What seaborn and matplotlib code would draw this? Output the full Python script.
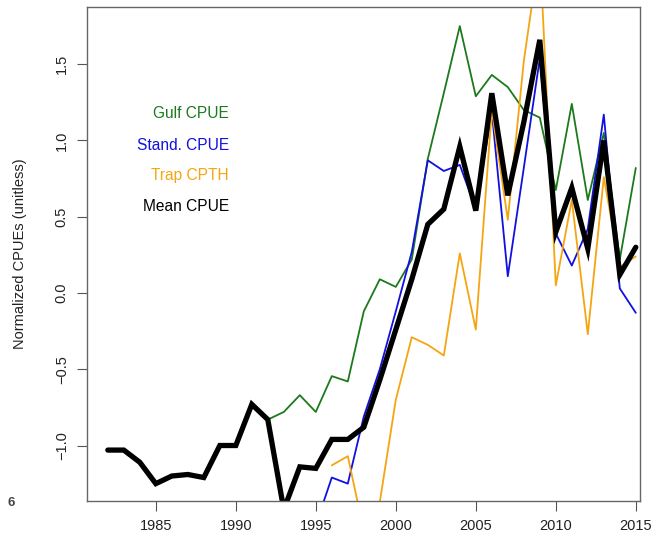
import numpy as np
import pandas as pd
import matplotlib
matplotlib.use("Agg")
import matplotlib.pyplot as plt
import seaborn as sns

sns.set_style("white")
plt.rcParams["font.family"] = ["Liberation Sans", "DejaVu Sans"]

years = list(range(1982, 2016))

mean_cpue = [-1.03, -1.03, -1.11, -1.25, -1.20, -1.19, -1.21, -1.00, -1.00, -0.73,
             -0.83, -1.42, -1.14, -1.15, -0.96, -0.96, -0.88, -0.57, -0.24, 0.09,
             0.45, 0.55, 0.96, 0.54, 1.31, 0.64, 1.12, 1.66, 0.40, 0.69,
             0.29, 1.00, 0.12, 0.30]

gulf_years = list(range(1992, 2016))
gulf_cpue = [-0.83, -0.78, -0.67, -0.78, -0.545, -0.58, -0.12, 0.09, 0.04, 0.22,
             0.88, 1.31, 1.75, 1.29, 1.43, 1.35, 1.20, 1.15, 0.675, 1.24,
             0.61, 1.05, 0.22, 0.82]

stand_years = list(range(1995, 2016))
stand_cpue = [-1.52, -1.21, -1.25, -0.81, -0.50, -0.12, 0.27, 0.87, 0.80, 0.84,
              0.55, 1.19, 0.11, 0.82, 1.54, 0.39, 0.18, 0.42, 1.17, 0.03, -0.13]

trap_years = list(range(1996, 2016))
trap_cpth = [-1.13, -1.07, -1.56, -1.37, -0.70, -0.29, -0.34, -0.41, 0.26, -0.24,
             1.20, 0.48, 1.52, 2.25, 0.05, 0.61, -0.27, 0.76, 0.17, 0.24]

series_names = ["Gulf CPUE", "Stand. CPUE", "Trap CPTH", "Mean CPUE"]
series_colors = ["#1c7a1c", "#1010e0", "#f5a511", "#000000"]

fig = plt.figure(figsize=(6.63, 5.42), dpi=100)
ax = fig.add_axes([0.131, 0.0756, 0.834, 0.9114])

sns.lineplot(x=gulf_years, y=gulf_cpue, color=series_colors[0], lw=1.3, ax=ax)
sns.lineplot(x=stand_years, y=stand_cpue, color=series_colors[1], lw=1.3, ax=ax)
sns.lineplot(x=trap_years, y=trap_cpth, color=series_colors[2], lw=1.3, ax=ax)
sns.lineplot(x=years, y=mean_cpue, color=series_colors[3], lw=3.8, ax=ax,
             solid_joinstyle="miter")

ax.set_xlim(1980.69, 2015.25)
ax.set_ylim(-1.364, 1.875)

ax.set_xticks([1985, 1990, 1995, 2000, 2005, 2010, 2015])
ax.set_yticks([-1.0, -0.5, 0.0, 0.5, 1.0, 1.5])
ax.set_yticklabels(["\u22121.0", "\u22120.5", "0.0", "0.5", "1.0", "1.5"],
                   rotation=90, va="center")
ax.tick_params(axis="both", direction="out", length=7, width=0.8,
               color="#555555", labelsize=10.5, labelcolor="#222222", pad=6)
ax.tick_params(axis="x", bottom=True)
ax.tick_params(axis="y", left=True)
for s in ax.spines.values():
    s.set_color("#666666")
    s.set_linewidth(1.0)

ax.set_xlabel("")
ax.set_ylabel("Normalized CPUEs (unitless)", fontsize=10.5, color="#222222",
              labelpad=20)

label_y = [1.18, 0.97, 0.77, 0.57]
for name, col, yy in zip(series_names, series_colors, label_y):
    ax.text(1989.56, yy, name, color=col, ha="right", va="center", fontsize=11.2)

fig.text(8 / 663, 1 - 503 / 542, "6", fontsize=9.5, color="#444444",
         ha="left", va="center", fontweight="bold")

fig.savefig("out.png", dpi=100)
